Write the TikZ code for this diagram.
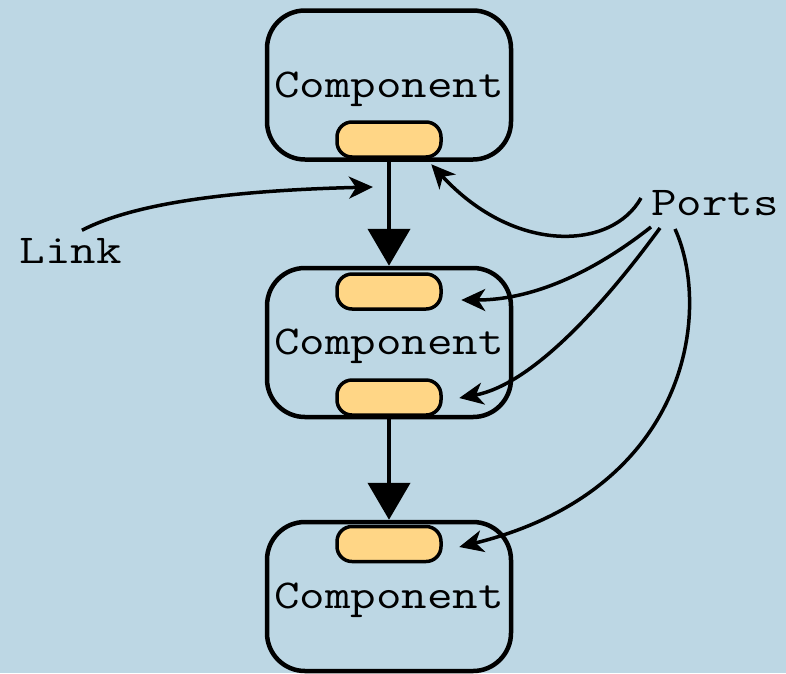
\documentclass[tikz,border=0pt]{standalone}
\usepackage{fontspec}
\usepackage{graphicx}
\usetikzlibrary{arrows.meta,calc}
\definecolor{bgblue}{RGB}{189,215,228}
\definecolor{portfill}{RGB}{255,214,134}
% typewriter labels, widened a little
\newcommand\monolabel[1]{\scalebox{1.21}[1]{#1}}
\begin{document}
\begin{tikzpicture}[x=1pt,y=-1pt,
  comp/.style={draw, line width=4.5pt, rounded corners=38pt,
    minimum width=244pt, minimum height=149pt, inner sep=0pt,
    text height=24pt, text depth=0pt,
    font=\ttfamily\fontsize{41}{41}\selectfont},
  port/.style={draw, line width=3.5pt, fill=portfill, rounded corners=15pt,
    minimum width=104pt, minimum height=35pt, inner sep=0pt},
  lbl/.style={inner sep=0pt, font=\ttfamily\fontsize{41}{41}\selectfont},
  link/.style={line width=4.5pt, -{Triangle[width=42pt,length=37pt]}},
  pointer/.style={line width=3.5pt, -{Stealth[length=24pt,width=22pt,inset=7pt]}},
]
\fill[bgblue] (0,0) rectangle (786,673);
\useasboundingbox (0,0) rectangle (786,673);

% components
\node[comp] (c1) at (389,85)    {\monolabel{Component}};
\node[comp] (c2) at (389,342.5) {\monolabel{Component}};
\node[comp] (c3) at (389,596.5) {\monolabel{Component}};

% ports
\node[port] (p1) at (389,139.5) {};
\node[port] (p2) at (389,291.5) {};
\node[port] (p3) at (389,397.5) {};
\node[port] (p4) at (389,544)   {};

% links between components
\draw[link] (p1.south) -- (c2.north);
\draw[link] (p3.south) -- (c3.north);

% captions
\node[lbl] (ports) at (715,203.5) {\monolabel{Ports}};
\node[lbl] (link)  at (71,251)    {\monolabel{Link}};

% pointers from the captions
\coordinate (linktip) at (373,187);
\coordinate (s1) at (641,198);
\coordinate (s2) at (651,227);
\coordinate (s3) at (660,228);
\coordinate (s4) at (675,229);

\draw[pointer] ($(link.north)+(11,-8)$) .. controls (140,200) and (250,190) .. (linktip);
\draw[pointer] (s1) .. controls (612,250) and (515,255) .. ($(p1.south east)+(-11.5,5.5)$);
\draw[pointer] (s2) .. controls (590,275) and (530,300) .. ($(p2.east)+(18.5,8.5)$);
\draw[pointer] (s3) .. controls (600,310) and (530,385) .. ($(p3.east)+(16.5,0.5)$);
\draw[pointer] (s4) .. controls (712,310) and (690,490) .. ($(p4.east)+(16.5,3)$);
\end{tikzpicture}
\end{document}
